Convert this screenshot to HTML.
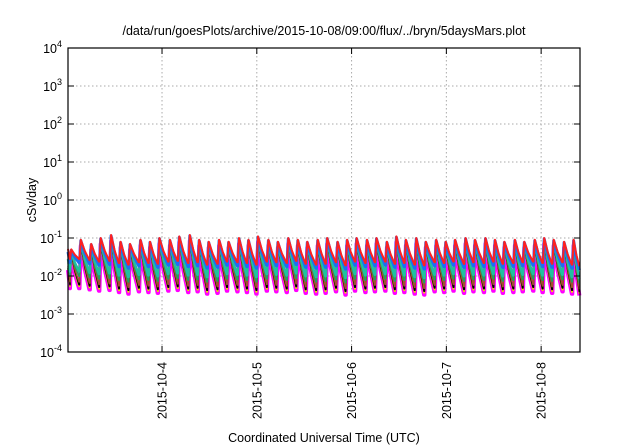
<!DOCTYPE html>
<html><head><meta charset="utf-8"><style>
body{margin:0;background:#fff;}
svg{display:block;font-family:"Liberation Sans",sans-serif;}
</style></head><body>
<svg width="640" height="448">
<g id="grid"></g>
<g id="series"></g>
<rect x="68" y="48" width="512" height="304" fill="none" stroke="#000" stroke-width="1.2"/>
<g id="axes"></g>
<text x="324" y="35" text-anchor="middle" font-size="12.5">/data/run/goesPlots/archive/2015-10-08/09:00/flux/../bryn/5daysMars.plot</text>
<text transform="translate(36,200) rotate(-90)" text-anchor="middle" font-size="12.5">cSv/day</text>
<text x="324" y="442" text-anchor="middle" font-size="12.5">Coordinated Universal Time (UTC)</text>
</svg>
<script>
const yTickExps=[-4,-3,-2,-1,0,1,2,3,4];
const xTickDays=[4,5,6,7,8];
const xTickLabels=["2015-10-4","2015-10-5","2015-10-6","2015-10-7","2015-10-8"];
const peakDays=[3.03,3.13,3.24,3.34,3.45,3.55,3.65,3.76,3.86,3.96,4.07,4.17,4.28,4.38,4.48,4.59,4.69,4.80,4.90,5.00,5.11,5.21,5.32,5.42,5.52,5.63,5.73,5.84,5.94,6.04,6.15,6.25,6.36,6.46,6.56,6.67,6.77,6.88,6.98,7.08,7.19,7.29,7.40,7.50,7.60,7.71,7.81,7.92,8.02,8.12,8.23,8.33];
const peakVals=[0.05,0.09,0.07,0.10,0.12,0.08,0.07,0.09,0.08,0.10,0.09,0.11,0.12,0.09,0.08,0.09,0.08,0.10,0.09,0.11,0.09,0.08,0.10,0.09,0.08,0.09,0.10,0.08,0.09,0.10,0.09,0.10,0.08,0.11,0.09,0.10,0.08,0.09,0.08,0.09,0.10,0.09,0.10,0.09,0.08,0.09,0.08,0.09,0.10,0.09,0.08,0.09];
const troughVals=[0.028,0.026,0.024,0.025,0.022,0.020,0.023,0.022,0.021,0.024,0.025,0.022,0.023,0.020,0.021,0.024,0.023,0.022,0.020,0.024,0.023,0.022,0.025,0.021,0.020,0.021,0.023,0.019,0.024,0.022,0.023,0.024,0.021,0.022,0.020,0.019,0.023,0.022,0.024,0.021,0.023,0.022,0.024,0.021,0.022,0.023,0.024,0.022,0.021,0.023,0.020,0.018];
const startDay=3.008, endDay=8.41, startVal=0.045;
const seriesColors=["#ff00ff","#e8e000","#000000","#a0522d","#20a060","#20c0a0","#1e6ff0","#ff2020"];
const seriesPeakRatio=[0.7,0.72,0.75,0.78,0.82,0.88,0.95,1.0];
const seriesTroughRatio=[0.17,0.19,0.21,0.25,0.35,0.47,0.8,1.0];
const seriesWidths=[4,1.5,1.5,1.5,1.5,2.5,3,2];
const seriesNames=["series-magenta","series-yellow","series-black","series-brown","series-green","series-teal","series-blue","series-red"];

const X0=68,X1=580,Y0=352,Y1=48;
const xs=d=>X0+(d-startDay)/(endDay-startDay)*(X1-X0);
const ys=v=>Y0-(Math.log10(v)+4)/8*(Y0-Y1);
const NS="http://www.w3.org/2000/svg";
const grid=document.getElementById('grid'),axes=document.getElementById('axes'),ser=document.getElementById('series');
function mk(tag,attrs,parent){const e=document.createElementNS(NS,tag);for(const k in attrs)e.setAttribute(k,attrs[k]);parent.appendChild(e);return e;}
yTickExps.forEach(p=>{
  const y=ys(Math.pow(10,p));
  if(p>-4&&p<4){const g=mk('line',{x1:X0,x2:X1,y1:y,y2:y,stroke:'#aaa','stroke-dasharray':'1.5,2.5','stroke-width':1},grid);
  
  }
  [[X0,X0+6],[X1-6,X1]].forEach(([a,b])=>{const t=mk('line',{x1:a,x2:b,y1:y,y2:y,stroke:'#000'},axes);
  
  });
  const tx=mk('text',{x:62,y:y+5,'text-anchor':'end','font-size':12.5},axes);
  
  
  tx.textContent='10';
  const sp=mk('tspan',{dy:-6,'font-size':9},tx);sp.textContent=String(p);
});
xTickDays.forEach((d,i)=>{
  const x=xs(d);
  const g=mk('line',{x1:x,x2:x,y1:Y1,y2:Y0,stroke:'#aaa','stroke-dasharray':'1.5,2.5','stroke-width':1},grid);
  
  
  [[Y0-6,Y0],[Y1,Y1+6]].forEach(([a,b])=>{const t=mk('line',{x1:x,x2:x,y1:a,y2:b,stroke:'#000'},axes);
  
  });
  const tx=mk('text',{transform:`translate(${x+4.5},362) rotate(-90)`,'text-anchor':'end','font-size':12.5},axes);
  
  
  tx.textContent=xTickLabels[i];
});
seriesColors.forEach((c,s)=>{
  let pts=[[xs(startDay),ys(startVal*(seriesTroughRatio[s]+0.15))]];
  peakDays.forEach((d,i)=>{
    pts.push([xs(d)-0.1,ys(troughVals[Math.max(i-1,0)]*seriesTroughRatio[s])]);
    const pv=peakVals[i]*seriesPeakRatio[s],tv=troughVals[i]*seriesTroughRatio[s];
    pts.push([xs(d)+1.2,ys(pv)]);
    const nd=i+1<peakDays.length?peakDays[i+1]:endDay;
    pts.push([xs(d+(nd-d)*0.5),ys(Math.pow(pv,0.45)*Math.pow(tv,0.55))]);
    pts.push([xs(nd)-0.6,ys(tv)]);
  });
  const p=mk('polyline',{points:pts.map(q=>q[0].toFixed(1)+','+q[1].toFixed(1)).join(' '),fill:'none',stroke:c,'stroke-width':seriesWidths[s],'stroke-linejoin':'round'},ser);
  
  
});
</script>
</body></html>
